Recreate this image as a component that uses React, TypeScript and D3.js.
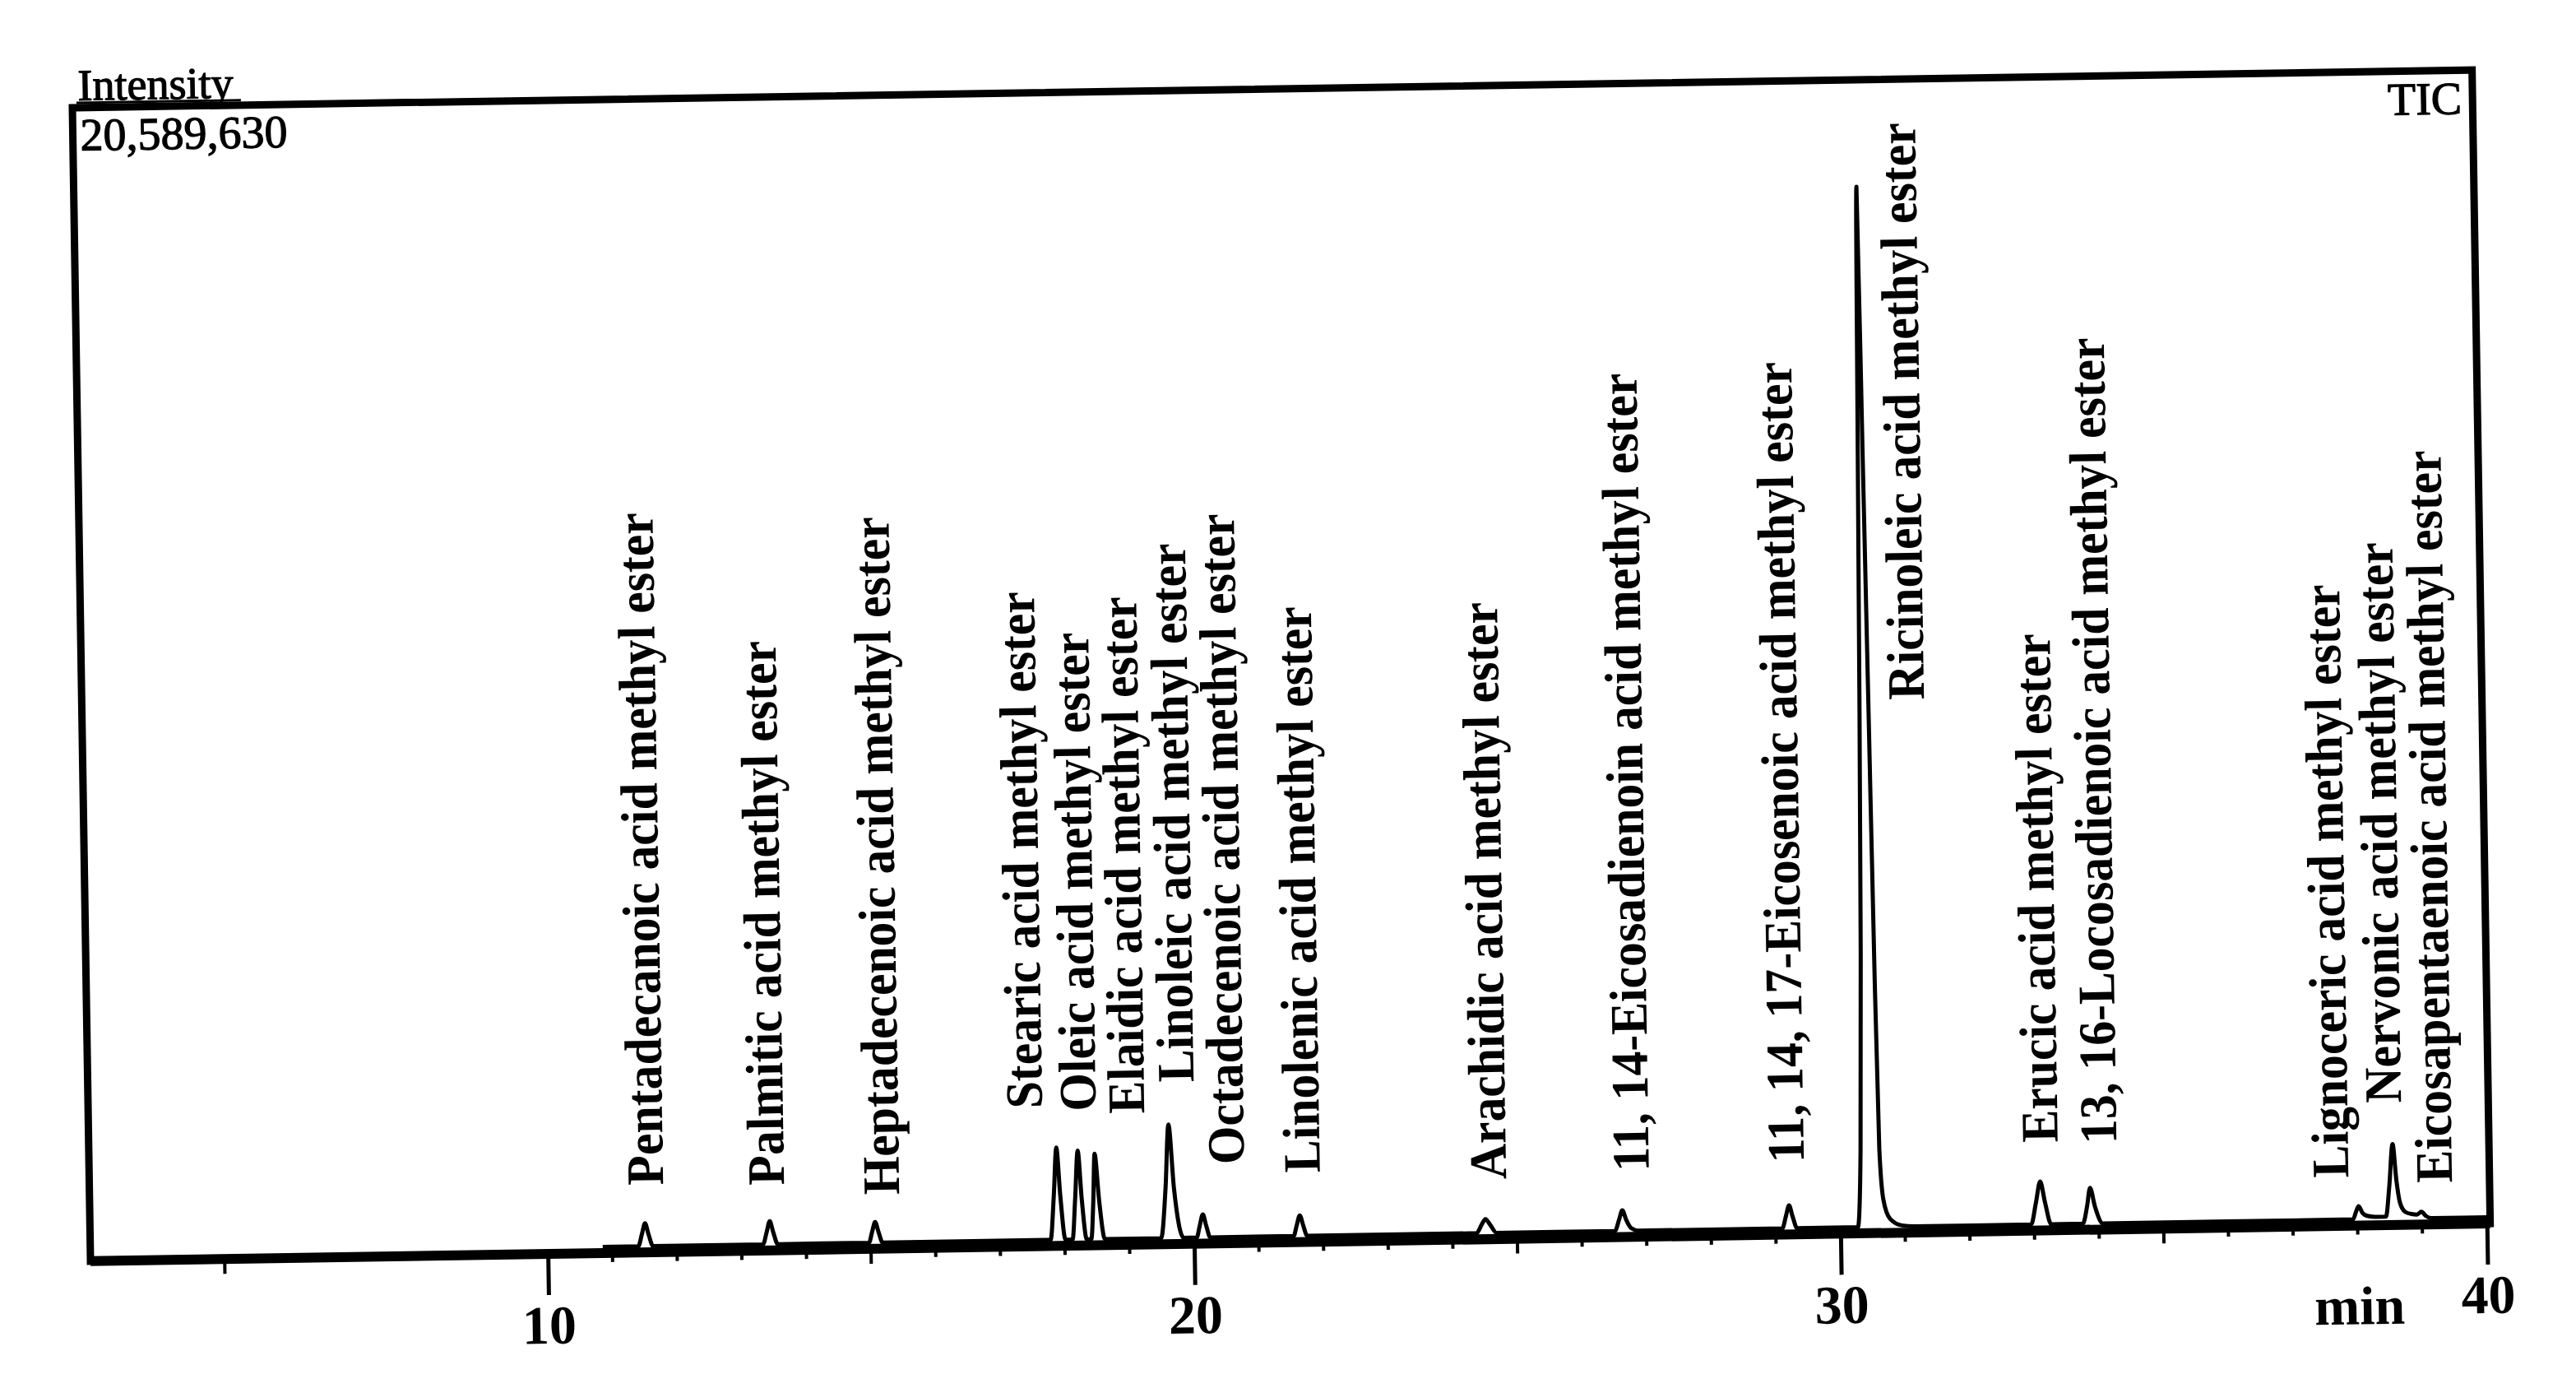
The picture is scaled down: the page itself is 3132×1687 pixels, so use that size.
import React, { useEffect, useRef } from "react";
import * as d3 from "d3";

// full scale of the intensity axis (top of the frame)
const fullScale = 20589630;
const fullScaleLabel = "20,589,630";

// compound names, left to right
const compounds = [
  "Pentadecanoic acid methyl ester",
  "Palmitic acid methyl ester",
  "Heptadecenoic acid methyl ester",
  "Stearic acid methyl ester",
  "Oleic acid methyl ester",
  "Elaidic acid methyl ester",
  "Linoleic acid methyl ester",
  "Octadecenoic acid methyl ester",
  "Linolenic acid methyl ester",
  "Arachidic acid methyl ester",
  "11, 14-Eicosadienoin acid methyl ester",
  "11, 14, 17-Eicosenoic acid methyl ester",
  "Ricinoleic acid methyl ester",
  "Erucic acid methyl ester",
  "13, 16-Locosadienoic acid methyl ester",
  "Lignoceric acid methyl ester",
  "Nervonic acid methyl ester",
  "Eicosapentaenoic acid methyl ester",
];

// where each label sits (retention time, min) and where it starts (intensity)
const labelTimes = [11.8, 13.67, 15.45, 17.68, 18.51, 19.26, 20.03, 20.79, 21.96, 24.84, 27.05, 29.45, 31.42, 33.38, 34.29, 37.87, 38.7, 39.47];
const labelLevels = [1200000, 1166000, 962000, 2460000, 2400000, 2340000, 2890000, 1410000, 1240000, 1070000, 1170000, 1280000, 9510000, 1570000, 1530000, 860000, 2180000, 740000];

// TIC trace, [retention time (min), intensity]
const trace: [number, number][] = [
  [10.85, 110000],
  [11.4, 110000], [11.46, 330000], [11.51, 521000], [11.56, 330000], [11.63, 110000],
  [13.33, 110000], [13.39, 330000], [13.44, 521000], [13.49, 330000], [13.56, 110000],
  [14.97, 110000], [15.02, 300000], [15.07, 477000], [15.12, 300000], [15.18, 110000],
  [17.78, 110000], [17.84, 900000], [17.89, 1755000], [17.94, 900000], [18.01, 110000],
  [18.12, 110000], [18.17, 850000], [18.22, 1696000], [18.27, 850000], [18.34, 110000],
  [18.41, 110000], [18.45, 800000], [18.48, 1637000], [18.54, 800000], [18.62, 110000],
  [19.49, 110000], [19.57, 1000000], [19.63, 2137000], [19.7, 1000000], [19.84, 110000],
  [20.04, 110000], [20.09, 320000], [20.14, 521000], [20.19, 320000], [20.25, 110000],
  [21.54, 110000], [21.59, 300000], [21.64, 477000], [21.69, 300000], [21.75, 110000],
  [24.37, 110000], [24.45, 260000], [24.51, 360000], [24.58, 260000], [24.68, 110000],
  [26.51, 110000], [26.58, 320000], [26.63, 477000], [26.69, 300000], [26.76, 160000], [26.88, 110000],
  [29.1, 110000], [29.16, 330000], [29.21, 521000], [29.26, 330000], [29.33, 110000],
  [30.27, 110000], [30.33, 1500000], [30.38, 5000000], [30.42, 9300000], [30.46, 14500000],
  [30.5, 18680000], [30.53, 14000000], [30.56, 9300000], [30.59, 4500000], [30.62, 1500000],
  [30.67, 600000], [30.77, 250000], [30.95, 130000], [31.15, 110000],
  [32.95, 110000], [33.03, 500000], [33.1, 874000], [33.17, 500000], [33.26, 110000],
  [33.75, 110000], [33.82, 420000], [33.87, 749000], [33.94, 420000], [34.06, 110000],
  [37.93, 110000], [37.98, 250000], [38.02, 345000], [38.08, 220000], [38.15, 170000], [38.28, 150000],
  [38.44, 150000], [38.5, 700000], [38.56, 1446000], [38.61, 800000], [38.66, 400000], [38.74, 230000], [38.84, 190000],
  [38.92, 180000], [38.99, 227000], [39.06, 150000], [39.15, 110000],
  [40.0, 110000],
];

const timeDomain = [3, 40];
const majorTicks = [10, 20, 30, 40];
const minorTicks = [5, 11, 12, 13, 14, 15, 16, 17, 18, 19, 21, 22, 23, 24, 25, 26, 27, 28, 29, 31, 32, 33, 34, 35, 36, 37, 38, 39];

const serif = "'Liberation Serif', 'Times New Roman', serif";

export default function App() {
  const svgRef = useRef<SVGSVGElement>(null);

  useEffect(() => {
    const svg = d3.select(svgRef.current);
    svg.selectAll("*").remove();

    const width = 3132;
    const height = 1687;
    const W = 2918;
    const H = 1402;

    svg.append("rect").attr("width", width).attr("height", height).attr("fill", "#fff");

    // the scanned page sits slightly askew
    const g = svg.append("g").attr("transform", "translate(88,131) rotate(-0.9)");

    const x = d3.scaleLinear().domain(timeDomain).range([6, 2914]);
    const y = d3.scaleLinear().domain([0, fullScale]).range([H, 0]);

    // frame
    g.append("rect")
      .attr("x", 0).attr("y", 0)
      .attr("width", W).attr("height", H)
      .attr("fill", "none")
      .attr("stroke", "#000")
      .attr("stroke-width", 9);

    g.append("line")
      .attr("x1", 0).attr("x2", W)
      .attr("y1", H).attr("y2", H)
      .attr("stroke", "#000")
      .attr("stroke-width", 12);

    // minor ticks
    g.selectAll(".minor")
      .data(minorTicks)
      .join("line")
      .attr("class", "minor")
      .attr("x1", (d) => x(d)).attr("x2", (d) => x(d))
      .attr("y1", H).attr("y2", (d) => H + (d % 5 === 0 ? 18 : 11))
      .attr("stroke", "#000")
      .attr("stroke-width", 4);

    // major ticks + labels
    const gx = g.append("g")
      .attr("transform", `translate(0,${H})`)
      .call(
        d3.axisBottom(x)
          .tickValues(majorTicks)
          .tickSize(50)
          .tickSizeOuter(0)
          .tickPadding(12)
          .tickFormat(d3.format("d"))
      );
    gx.select(".domain").remove();
    gx.selectAll(".tick line").attr("stroke", "#000").attr("stroke-width", 5);
    gx.selectAll(".tick text")
      .attr("fill", "#000")
      .style("font-family", serif)
      .style("font-size", "66px")
      .style("font-weight", "bold");

    g.append("text")
      .attr("x", W - 160)
      .attr("y", H + 120)
      .attr("text-anchor", "middle")
      .style("font-family", serif)
      .style("font-size", "66px")
      .style("font-weight", "bold")
      .text("min");

    // trace
    const lineGen = d3.line<[number, number]>()
      .x((d) => x(d[0]))
      .y((d) => y(d[1]))
      .curve(d3.curveMonotoneX);

    g.append("path")
      .datum(trace)
      .attr("fill", "none")
      .attr("stroke", "#000")
      .attr("stroke-width", 5)
      .attr("stroke-linejoin", "round")
      .attr("d", lineGen);

    // peak labels
    g.selectAll(".peak-label")
      .data(compounds)
      .join("text")
      .attr("class", "peak-label")
      .attr("transform", (d, i) => `translate(${x(labelTimes[i])},${y(labelLevels[i])}) rotate(-90) scale(0.933,1)`)
      .attr("text-anchor", "start")
      .style("font-family", serif)
      .style("font-size", "64px")
      .style("font-weight", "bold")
      .attr("fill", "#000")
      .text((d) => d);

    // header texts (scan-darkened regular weight)
    const header = (sel: any) =>
      sel.style("font-family", serif)
        .attr("fill", "#000")
        .attr("stroke", "#000")
        .attr("stroke-width", 1.2);

    header(g.append("text")
      .attr("x", 7).attr("y", -9)
      .style("font-size", "54px")
      .text("Intensity"));
    g.append("line")
      .attr("x1", 5).attr("x2", 205)
      .attr("y1", -6).attr("y2", -6)
      .attr("stroke", "#000")
      .attr("stroke-width", 3);

    header(g.append("text")
      .attr("x", 9).attr("y", 52)
      .style("font-size", "56px")
      .text(fullScaleLabel));

    header(g.append("text")
      .attr("x", W - 13).attr("y", 53)
      .attr("text-anchor", "end")
      .style("font-size", "56px")
      .text("TIC"));
  }, []);

  return (
    <svg
      ref={svgRef}
      width={3132}
      height={1687}
      style={{ position: "absolute", left: 0, top: 0, display: "block" }}
    />
  );
}
